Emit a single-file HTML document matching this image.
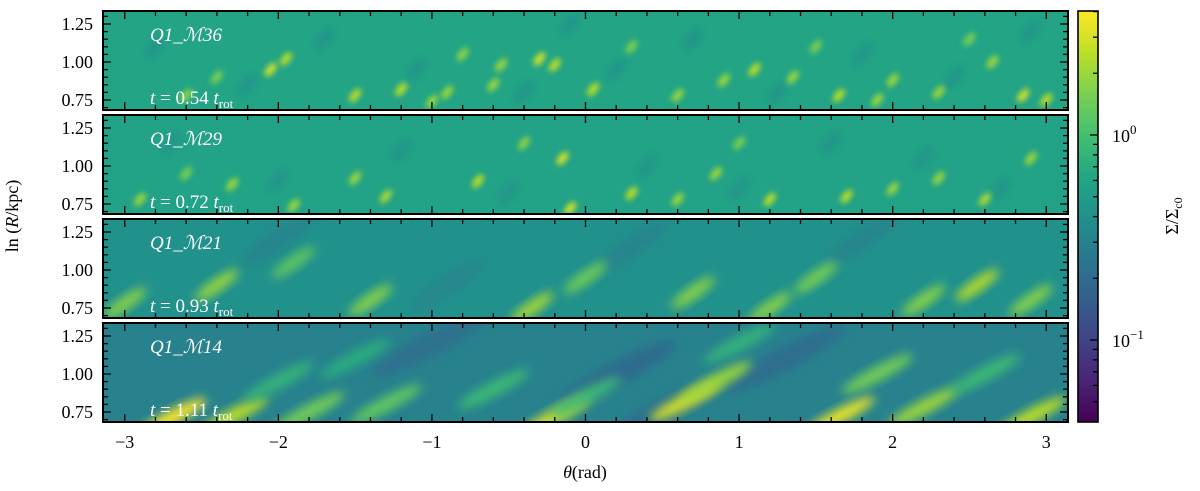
<!DOCTYPE html>
<html><head><meta charset="utf-8"><style>
body{margin:0;background:#fff;}
svg{display:block;font-family:"Liberation Serif",serif;}
</style></head><body>
<svg id="chart" width="1200" height="491" viewBox="0 0 1200 491">
<defs>
<filter id="blur" x="-50%" y="-50%" width="200%" height="200%"><feGaussianBlur stdDeviation="3"/></filter>
<filter id="blur2" x="-50%" y="-50%" width="200%" height="200%"><feGaussianBlur stdDeviation="5"/></filter>
<linearGradient id="cbgrad" x1="0" y1="1" x2="0" y2="0">
<stop offset="0" stop-color="#440154"/><stop offset="0.1" stop-color="#482475"/><stop offset="0.2" stop-color="#414487"/>
<stop offset="0.3" stop-color="#355f8d"/><stop offset="0.4" stop-color="#2a788e"/><stop offset="0.5" stop-color="#21918c"/>
<stop offset="0.6" stop-color="#22a884"/><stop offset="0.7" stop-color="#44bf70"/><stop offset="0.8" stop-color="#7ad151"/>
<stop offset="0.9" stop-color="#bddf26"/><stop offset="1" stop-color="#fde725"/></linearGradient>
</defs>
<g id="panels"></g>
<g id="cbar"></g>
<text x="18" y="216" transform="rotate(-90 18 216)" font-size="18" text-anchor="middle">ln (<tspan font-style="italic">R</tspan>/kpc)</text>
<text x="585" y="478" font-size="18" text-anchor="middle"><tspan font-style="italic">θ</tspan>(rad)</text>
<text x="1178" y="216" transform="rotate(-90 1178 216)" font-size="18" text-anchor="middle">Σ/Σ<tspan font-size="12" dy="4">c0</tspan></text>
</svg>
<script>
const panelNames=["Q1_ℳ36","Q1_ℳ29","Q1_ℳ21","Q1_ℳ14"];
const panelTimes=["0.54","0.72","0.93","1.11"];
const panelBase=[0.58,0.56,0.4,0.3];
const blobs1=[[-2.8,1.1,0.46],[-2.2,0.85,0.46],[-1.7,1.15,0.46],[-1.1,0.95,0.46],[-0.4,0.8,0.46],[0.2,0.95,0.46],[0.7,1.15,0.46],[1.25,0.8,0.46],[1.8,1.05,0.46],[2.4,0.9,0.46],[2.9,1.2,0.46],[-0.1,1.25,0.46],
[-2.05,0.95,3],[-1.95,1.02,2.5],[-1.5,0.78,2.5],[-1.2,0.82,2.5],[-0.9,0.8,2],[-0.6,0.85,2],[-0.3,1.02,3],[-0.2,0.98,2.5],[-0.55,0.98,2],[0.05,0.82,2.5],[0.6,0.78,2],[1.1,0.95,2.5],[1.35,0.9,2],[1.65,0.78,2.5],[2.0,0.88,2],[2.3,0.8,2],[2.65,1.0,2],[2.85,0.78,3],[3.0,0.75,2.5],[-1.0,0.74,2],[-2.6,0.78,1.8],[0.9,0.88,2],[-0.8,1.05,1.8],[1.9,0.75,2],[-2.4,0.9,1.6],[0.3,1.1,1.6],[1.5,1.1,1.6],[2.5,1.15,1.6]];
const blobs2=[[-2.7,1.15,0.46],[-2.0,0.9,0.46],[-1.2,1.1,0.46],[-0.5,0.82,0.46],[0.4,1.0,0.46],[1.0,0.85,0.46],[1.6,1.15,0.46],[2.2,1.05,0.46],[2.7,0.85,0.46],
[-0.15,1.05,3],[-0.7,0.9,2.5],[-1.3,0.8,2.2],[-1.5,0.92,2],[-2.3,0.88,2],[-0.1,0.72,3],[0.3,0.82,2.5],[0.85,0.95,2],[1.2,0.78,2.5],[1.7,0.8,2.5],[2.0,0.85,2],[2.3,0.92,2],[2.9,1.05,2],[-2.9,0.78,2],[-1.9,0.74,2],[0.6,0.78,2],[-0.4,1.15,1.8],[2.6,0.78,2.2],[-2.6,0.95,1.6],[1.0,1.15,1.6]];
const blobs3=[[-2.0,1.2,0.32],[0.3,1.15,0.32],[1.8,1.2,0.32],[-0.9,0.9,0.33],
[-2.4,0.9,2],[-0.35,0.75,2.2],[0.7,0.85,1.8],[1.2,0.75,1.8],[2.55,0.9,2.5],[1.5,0.95,1.6],[-1.4,0.8,1.8],[2.2,0.8,1.8],[-3.0,0.78,1.8],[0.0,0.95,1.5],[-1.9,1.05,1.3],[2.9,0.8,1.8]];
const blobs4=[[0.2,1.0,0.2],[1.3,1.1,0.21],[-1.0,1.2,0.22],[0.5,0.75,0.21],
[-2.7,0.71,4],[-2.3,0.72,2.5],[-0.2,0.72,3],[0.65,0.82,3],[0.85,0.95,2],[1.65,0.72,3.5],[2.2,0.78,2],[2.9,0.72,2.5],[-1.8,0.75,1.5],[1.9,1.0,1.5],[-1.3,0.8,1.3],[-0.6,0.9,0.9],[0.0,0.85,0.9],[-2.0,0.95,0.8],[2.6,1.0,0.9],[1.0,1.2,0.8],[-1.5,1.1,0.7]];
const allBlobs=[blobs1,blobs2,blobs3,blobs4];
const xTicks=[-3,-2,-1,0,1,2,3];
const yTicks=[0.75,1.00,1.25];
const cbTicks=[1,0.1];

const NS="http://www.w3.org/2000/svg";
const X0=103,X1=1068,Y0=11,PH=99,PSTEP=104;
const xs=t=>X0+(t+Math.PI)/(2*Math.PI)*(X1-X0);
const ysFor=i=>v=>Y0+i*PSTEP+100-(v-0.75)*152-11;
const vir=["#440154","#482475","#414487","#355f8d","#2a788e","#21918c","#22a884","#44bf70","#7ad151","#bddf26","#fde725"];
function hex(c){return [1,3,5].map(k=>parseInt(c.substr(k,2),16));}
function color(v){let t=(Math.log10(v)+1.4)/2.0;t=Math.max(0,Math.min(1,t));const f=t*10,i=Math.min(9,Math.floor(f)),r=f-i;const a=hex(vir[i]),b=hex(vir[i+1]);return "rgb("+a.map((x,k)=>Math.round(x+(b[k]-x)*r)).join(",")+")";}
function el(tag,attrs,parent){const e=document.createElementNS(NS,tag);for(const k in attrs)e.setAttribute(k,attrs[k]);parent.appendChild(e);return e;}
const P=document.getElementById("panels");
const shapeRx=[8,8,26,40],shapeRy=[4,4,6,7],shapeRot=[-50,-50,-35,-28];
for(let i=0;i<4;i++){
  const ys=ysFor(i),top=Y0+i*PSTEP;
  const g=el("g",{},P);
  
  
  const cp=el("clipPath",{id:"c"+i},g);
  el("rect",{x:X0,y:top,width:X1-X0,height:PH},cp);
  const inner=el("g",{"clip-path":"url(#c"+i+")"},g);
  const bg=el("rect",{x:X0,y:top,width:X1-X0,height:PH,fill:color(panelBase[i])},inner);
  
  
  const flt=i<2?"url(#blur)":"url(#blur2)";
  allBlobs[i].forEach(b=>{
    const cx=xs(b[0]),cy=ys(b[1]);
    const dark=b[2]<panelBase[i];
    const e=el("ellipse",{cx:cx,cy:cy,rx:dark?shapeRx[i]*1.7:shapeRx[i],ry:dark?shapeRy[i]*1.7:shapeRy[i],fill:color(b[2]),filter:flt,transform:"rotate("+shapeRot[i]+" "+cx+" "+cy+")"},inner);
    
    
  });
  for(let t=-3.0;t<=3.01;t+=0.2){const x=xs(t);const maj=Math.abs(t-Math.round(t))<0.01;const L=maj?8:5;
    el("line",{x1:x,x2:x,y1:top,y2:top+L,stroke:"#000","stroke-width":1.3},g);
    el("line",{x1:x,x2:x,y1:top+PH,y2:top+PH-L,stroke:"#000","stroke-width":1.3},g);}
  for(let v=0.70;v<=1.33;v+=0.05){const y=ys(v);if(y<top||y>top+PH)continue;const maj=Math.abs(v*4-Math.round(v*4))<0.01;const L=maj?8:5;
    el("line",{x1:X0,x2:X0+L,y1:y,y2:y,stroke:"#000","stroke-width":1.3},g);
    el("line",{x1:X1,x2:X1-L,y1:y,y2:y,stroke:"#000","stroke-width":1.3},g);}
  el("rect",{x:X0,y:top,width:X1-X0,height:PH,fill:"none",stroke:"#000","stroke-width":2},g);
  yTicks.forEach(v=>{const t=el("text",{x:X0-10,y:ys(v)+6,"font-size":18,"text-anchor":"end"},g);t.textContent=v.toFixed(2);
    
    });
  const n=el("text",{x:150,y:top+30,"font-size":19,fill:"#fff","font-style":"italic"},g);n.textContent=panelNames[i];
  
  
  const tt=el("text",{x:150,y:top+93,"font-size":19,fill:"#fff"},g);
  tt.innerHTML='<tspan font-style="italic">t</tspan> = '+panelTimes[i]+' <tspan font-style="italic">t</tspan><tspan font-size="13" dy="4">rot</tspan>';
  
  
}
xTicks.forEach(v=>{const t=el("text",{x:xs(v),y:448,"font-size":18,"text-anchor":"middle"},P);t.textContent=(v<0?"−":"")+Math.abs(v);
  
  });
const C=document.getElementById("cbar");
const CX=1078,CW=20,CT=11,CB=422;
const cy=v=>135-Math.log10(v)*205;
const cr=el("rect",{x:CX,y:CT,width:CW,height:CB-CT,fill:"url(#cbgrad)",stroke:"#000","stroke-width":1.6},C);


[0.04,0.05,0.06,0.07,0.08,0.09,0.1,0.2,0.3,0.4,0.5,0.6,0.7,0.8,0.9,1,2,3,4].forEach(v=>{const y=cy(v);if(y<CT||y>CB)return;const maj=cbTicks.includes(v);
  el("line",{x1:CX+CW,x2:CX+CW-(maj?8:5),y1:y,y2:y,stroke:"#000","stroke-width":1.3},C);});
cbTicks.forEach(v=>{const t=el("text",{x:1112,y:cy(v)+7,"font-size":18},C);
  t.innerHTML='10<tspan font-size="13" dy="-8">'+(v===1?"0":"−1")+'</tspan>';
  
  });
</script>
</body></html>
